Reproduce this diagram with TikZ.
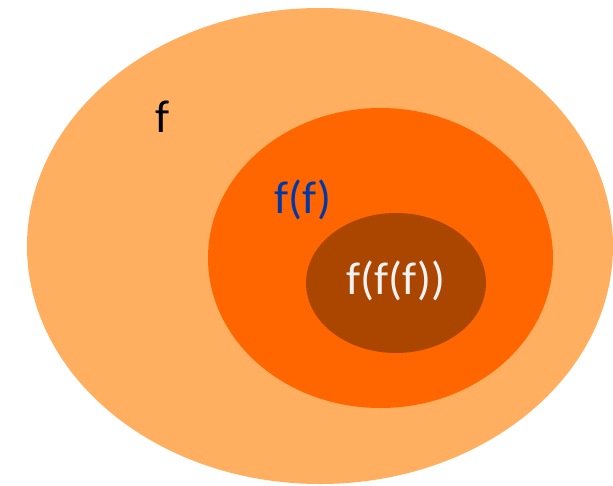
\documentclass[tikz,border=0pt]{standalone}
\usepackage{fontspec}
\setmainfont{Carlito}
\definecolor{outerC}{RGB}{255,175,95}
\definecolor{midC}{RGB}{255,102,0}
\definecolor{innerC}{RGB}{170,70,0}
\definecolor{blueT}{RGB}{0,56,168}
\definecolor{whiteT}{RGB}{242,242,242}
\tikzset{lbl/.style={anchor=base, inner sep=0pt, font=\fontsize{46}{54}\selectfont}}
\begin{document}
\begin{tikzpicture}[x=1pt,y=-1pt]
\useasboundingbox (0,0) rectangle (613,485);
\clip (0,0) rectangle (613,485);
\fill[outerC] (320,246) ellipse [x radius=293, y radius=238];
\fill[midC] (380.5,258) ellipse [x radius=172.5, y radius=150];
\fill[innerC] (396,283) ellipse [x radius=90, y radius=70];
\node[lbl, text=black] (f1) at (163,132) {f};
\node[lbl, text=blueT] (f2) at (303,213) {f(f)};
\node[lbl, text=whiteT] (f3) at (396,294) {f(f(f))};
\end{tikzpicture}
\end{document}
